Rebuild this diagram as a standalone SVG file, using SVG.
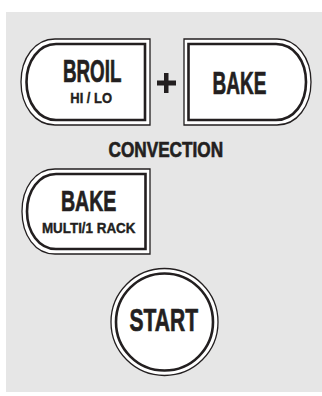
<svg xmlns="http://www.w3.org/2000/svg" width="322" height="396" viewBox="0 0 322 396">
<style>
.panel{fill:#e6e6e6}
.outer{fill:#fff;stroke:#231f20;stroke-width:1.3}
.inner{fill:#fff;stroke:#231f20;stroke-width:2.6}
.t{font-family:"Liberation Sans",Arial,sans-serif;font-weight:bold;fill:#231f20;stroke:#231f20;stroke-width:0.7;text-anchor:middle}
.s{stroke-width:0.4}
</style>
<rect class="panel" x="6" y="12" width="316" height="380"/>
<g id="broil">
<path class="outer" d="M150,39 V125 H55 C35,125 21,106 21,82 C21,58 35,39 55,39 Z"/>
<path class="inner" d="M145,44 V120 H56 C39,120 26.5,103 26.5,82 C26.5,61 39,44 56,44 Z"/>
<text class="t" x="92.2" y="82" font-size="30.5" textLength="58.5" lengthAdjust="spacingAndGlyphs">BROIL</text>
<text class="t s" x="91.2" y="102.8" font-size="14.8" textLength="41.8" lengthAdjust="spacingAndGlyphs">HI / LO</text>
</g>
<g id="plus">
<rect x="157" y="80.5" width="19" height="5" fill="#231f20"/>
<rect x="164" y="73" width="4.5" height="20" fill="#231f20"/>
</g>
<g id="bake">
<path class="outer" d="M184,39 H277 C297,39 311,58 311,82 C311,106 297,125 277,125 H184 Z"/>
<path class="inner" d="M188.5,44 H276 C294,44 306,61 306,82 C306,103 294,120 276,120 H188.5 Z"/>
<text class="t" x="239.5" y="93.7" font-size="31.5" textLength="54" lengthAdjust="spacingAndGlyphs">BAKE</text>
</g>
<g id="convection">
<text class="t" x="165.8" y="157" font-size="22.5" textLength="114.5" lengthAdjust="spacingAndGlyphs">CONVECTION</text>
</g>
<g id="bake-multi">
<path class="outer" d="M150,169 V254 H55 C35,254 22,235 22,211.5 C22,188 35,169 55,169 Z"/>
<path class="inner" d="M145.5,174 V249 H56 C39,249 27,232 27,211.5 C27,191 39,174 56,174 Z"/>
<text class="t" x="88.7" y="211.4" font-size="29.5" textLength="55.5" lengthAdjust="spacingAndGlyphs">BAKE</text>
<text class="t s" x="88.7" y="232.5" font-size="15" textLength="93.5" lengthAdjust="spacingAndGlyphs">MULTI/1 RACK</text>
</g>
<g id="start">
<circle class="outer" cx="164.5" cy="322" r="53.5"/>
<circle class="inner" cx="164.5" cy="322" r="48.5"/>
<text class="t" x="163.8" y="331.4" font-size="31" textLength="68.5" lengthAdjust="spacingAndGlyphs">START</text>
</g>
<g id="connectors"></g>
</svg>
